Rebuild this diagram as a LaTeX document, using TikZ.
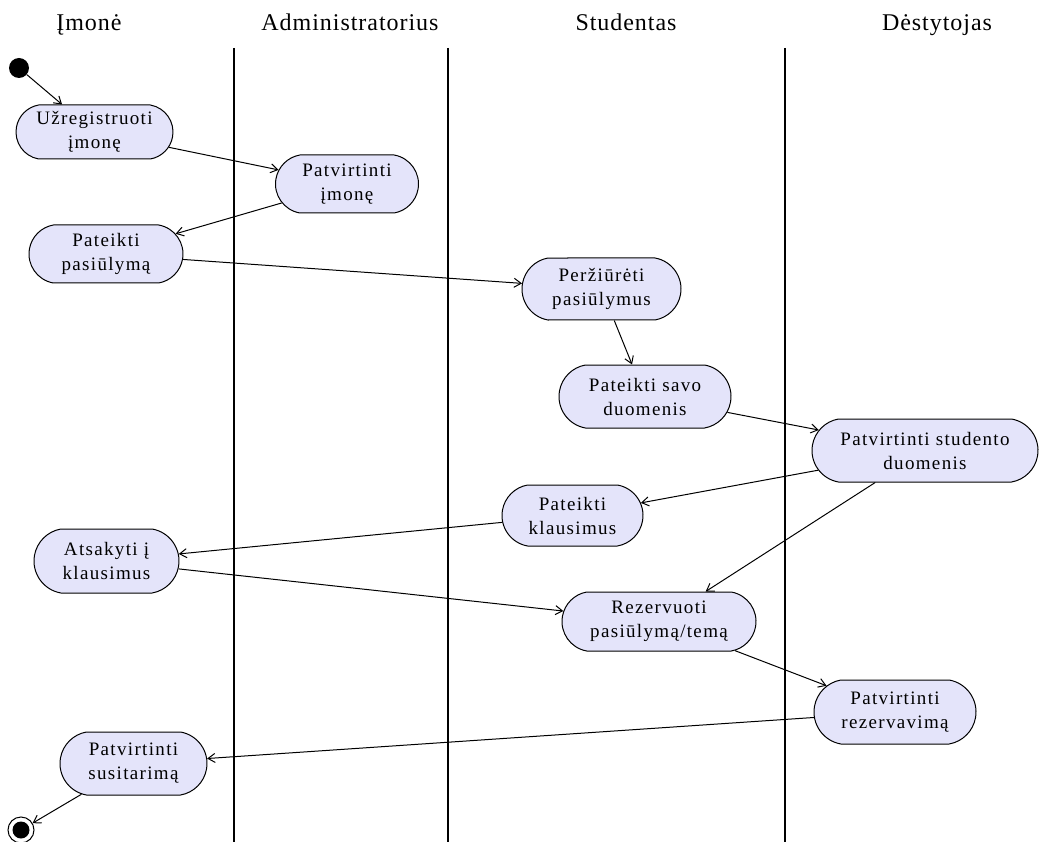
\documentclass[tikz,border=0pt]{standalone}
\usepackage{fontspec}
\setmainfont{Liberation Serif}
\newfontfamily\headfont[LetterSpace=4]{Liberation Serif}
\newfontfamily\actfont[LetterSpace=7]{Liberation Serif}
\usetikzlibrary{shapes.misc,arrows.meta}
\definecolor{actfill}{RGB}{228,228,250}
\begin{document}
\begin{tikzpicture}[x=1pt,y=-1pt,
  activity/.style={rounded rectangle, rounded rectangle arc length=160,
    draw=black, line width=1pt, fill=actfill, align=center, inner sep=2pt,
    font=\actfont\fontsize{19}{24}\selectfont},
  lane/.style={line width=1.4pt},
  flow/.style={-{Straight Barb[length=7pt,width=9pt]}, line width=1pt},
  header/.style={anchor=base, font=\headfont\fontsize{24}{28}\selectfont}]
\useasboundingbox (0,0) rectangle (1044,842);

% swimlane headers
\node[header] (hcompany) at (89,31) {Įmonė};
\node[header] (hadmin) at (350,31) {Administratorius};
\node[header] (hstudent) at (626,31) {Studentas};
\node[header] (hteacher) at (937,31) {Dėstytojas};

% swimlane separators
\draw[lane] (234,48) -- (234,842);
\draw[lane] (448,48) -- (448,842);
\draw[lane] (785,48) -- (785,842);

% initial and final states
\node[circle, fill=black, minimum size=20pt, inner sep=0pt] (start) at (19,68) {};
\node[circle, draw=black, fill=white, line width=1pt, minimum size=26pt, inner sep=0pt] (finish) at (21,830) {};
\node[circle, fill=black, minimum size=17pt, inner sep=0pt] (finishdot) at (21,830) {};

% activities
\node[activity, minimum width=161pt, minimum height=54pt] (reg) at (94.5,132) {Užregistruoti\\įmonę};
\node[activity, minimum width=147pt, minimum height=58pt] (confco) at (347,184) {Patvirtinti\\įmonę};
\node[activity, minimum width=158pt, minimum height=58pt] (offer) at (106,254) {Pateikti\\pasiūlymą};
\node[activity, minimum width=163pt, minimum height=62pt] (browse) at (601.5,289) {Peržiūrėti\\pasiūlymus};
\node[activity, minimum width=176pt, minimum height=63pt] (submit) at (645,396.5) {Pateikti savo\\duomenis};
\node[activity, minimum width=230pt, minimum height=63pt] (confst) at (925,450.5) {Patvirtinti studento\\duomenis};
\node[activity, minimum width=145pt, minimum height=61pt] (ask) at (572.5,515.5) {Pateikti\\klausimus};
\node[activity, minimum width=149pt, minimum height=64pt] (answer) at (106.5,561) {Atsakyti į\\klausimus};
\node[activity, minimum width=198pt, minimum height=59pt] (reserve) at (659,621.5) {Rezervuoti\\pasiūlymą/temą};
\node[activity, minimum width=166pt, minimum height=64pt] (confres) at (895,712) {Patvirtinti\\rezervavimą};
\node[activity, minimum width=151pt, minimum height=63pt] (agree) at (133.5,763.5) {Patvirtinti\\susitarimą};

% control flows
\draw[flow] (start) -- (reg);
\draw[flow] (reg) -- (confco);
\draw[flow] (confco) -- (offer);
\draw[flow] (offer) -- (browse);
\draw[flow] (browse) -- (submit);
\draw[flow] (submit) -- (confst);
\draw[flow] (confst) -- (ask);
\draw[flow] (confst) -- (reserve);
\draw[flow] (ask) -- (answer);
\draw[flow] (answer) -- (reserve);
\draw[flow] (reserve) -- (confres);
\draw[flow] (confres) -- (agree);
\draw[flow] (agree) -- (finish);
\end{tikzpicture}
\end{document}
